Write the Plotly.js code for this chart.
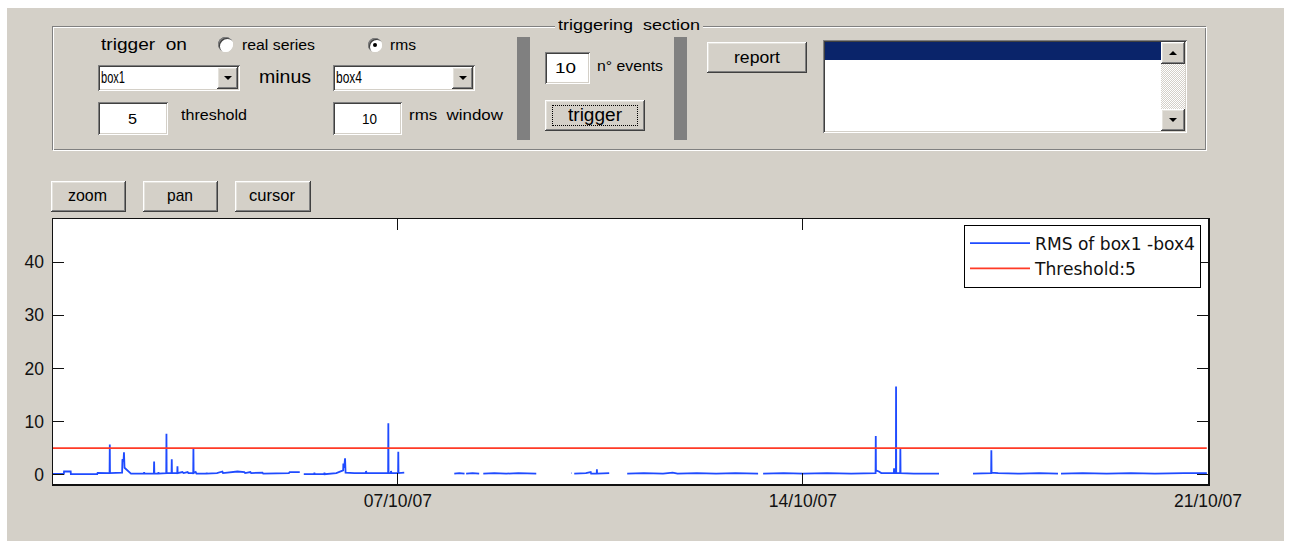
<!DOCTYPE html>
<html><head><meta charset="utf-8">
<script src="https://cdn.plot.ly/plotly-3.0.1.min.js"></script>
<style>
html,body{margin:0;padding:0}
body{width:1291px;height:541px;position:relative;background:#fff;overflow:hidden;font-family:'Liberation Sans',Arial,sans-serif}
#bg{position:absolute;left:7px;top:8px;width:1277px;height:533px;background:#d4d0c8}
#plot{position:absolute;left:0;top:0;width:1291px;height:541px}
#gui{position:absolute;left:0;top:0;width:1291px;height:541px;pointer-events:none;z-index:5}
.abs{position:absolute;box-sizing:border-box}
.btn{background:#d4d0c8;box-shadow:inset -1px -1px #404040,inset 1px 1px #fff,inset -2px -2px #808080,inset 2px 2px #e4e2dc}
.sunk{background:#fff;box-shadow:inset 1px 1px #808080,inset -1px -1px #fff,inset 2px 2px #404040,inset -2px -2px #d4d0c8}
.txt{position:absolute;white-space:pre;line-height:1;color:#000;transform-origin:0 0;font-family:'Liberation Sans',Arial,sans-serif}
</style>
</head><body>
<div id="bg"></div>
<div id="plot"></div>
<div id="gui"></div>
<script>
// ---------------- data ----------------
const seriesName = 'RMS of box1 -box4';
const thresholdName = 'Threshold:5';
const rmsTime = [
  // segment 1
  '2007-10-01 01:00','2007-10-01 05:30','2007-10-01 05:35','2007-10-01 08:20','2007-10-01 08:25',
  '2007-10-01 19:20','2007-10-01 19:30','2007-10-01 22:00','2007-10-02 00:28','2007-10-02 00:33',
  '2007-10-02 00:38','2007-10-02 05:40','2007-10-02 05:48','2007-10-02 06:15','2007-10-02 06:26',
  '2007-10-02 06:40','2007-10-02 07:30','2007-10-02 08:30','2007-10-02 09:20','2007-10-02 14:40',
  '2007-10-02 14:48','2007-10-02 14:56','2007-10-02 18:50','2007-10-02 18:56','2007-10-02 19:02',
  '2007-10-02 20:40','2007-10-02 20:44','2007-10-02 20:50','2007-10-02 23:58','2007-10-03 00:03',
  '2007-10-03 00:08','2007-10-03 02:10','2007-10-03 02:15','2007-10-03 02:20','2007-10-03 04:32',
  '2007-10-03 04:37','2007-10-03 04:42','2007-10-03 06:40','2007-10-03 07:10','2007-10-03 08:50',
  '2007-10-03 09:10','2007-10-03 11:09','2007-10-03 11:14','2007-10-03 11:19','2007-10-03 12:10',
  '2007-10-03 12:30','2007-10-03 16:40','2007-10-03 16:45','2007-10-03 16:50','2007-10-03 21:00',
  '2007-10-03 23:15','2007-10-03 23:30','2007-10-04 05:30','2007-10-04 08:20','2007-10-04 08:40',
  '2007-10-04 10:50','2007-10-04 11:10','2007-10-04 15:50','2007-10-04 16:10','2007-10-05 02:50',
  '2007-10-05 03:10','2007-10-05 07:20','2007-10-05 08:10',
  // segment 2
  '2007-10-05 09:00','2007-10-05 13:20','2007-10-05 13:25','2007-10-05 13:30','2007-10-05 17:30',
  '2007-10-05 17:35','2007-10-05 17:40','2007-10-05 22:30','2007-10-06 00:30','2007-10-06 01:20',
  '2007-10-06 01:25','2007-10-06 01:45','2007-10-06 02:07','2007-10-06 02:20','2007-10-06 06:00',
  '2007-10-06 10:45','2007-10-06 10:50','2007-10-06 11:00','2007-10-06 19:59','2007-10-06 20:04',
  '2007-10-06 20:09','2007-10-06 21:05','2007-10-06 21:11','2007-10-06 21:20','2007-10-07 00:07',
  '2007-10-07 00:12','2007-10-07 00:17','2007-10-07 02:40','2007-10-07 03:30',
  // segment 3
  '2007-10-07 23:25','2007-10-08 01:30','2007-10-08 03:40','2007-10-08 03:50','2007-10-08 04:20',
  '2007-10-08 07:00','2007-10-08 09:45','2007-10-08 10:30',
  // segment 4
  '2007-10-08 11:27','2007-10-08 16:00','2007-10-08 21:00','2007-10-09 02:00','2007-10-09 09:25',
  '2007-10-09 12:00',
  // segment 5
  '2007-10-09 23:55','2007-10-10 00:05','2007-10-10 00:30','2007-10-10 01:10','2007-10-10 06:00',
  '2007-10-10 08:00','2007-10-10 08:10','2007-10-10 10:30','2007-10-10 10:34','2007-10-10 10:38',
  '2007-10-10 15:40','2007-10-10 19:00',
  // segment 6
  '2007-10-10 23:08','2007-10-11 06:00','2007-10-11 14:00','2007-10-11 18:00','2007-10-11 20:00',
  '2007-10-12 04:00','2007-10-12 12:00','2007-10-12 20:00','2007-10-13 05:25','2007-10-13 06:30',
  // segment 7
  '2007-10-13 07:30','2007-10-13 16:00','2007-10-14 00:00','2007-10-14 10:00','2007-10-14 20:00',
  '2007-10-15 03:00','2007-10-15 06:08','2007-10-15 06:13','2007-10-15 06:18','2007-10-15 07:30',
  '2007-10-15 08:30','2007-10-15 13:44','2007-10-15 13:48','2007-10-15 13:52','2007-10-15 14:34',
  '2007-10-15 14:38','2007-10-15 14:42','2007-10-15 16:20','2007-10-15 16:25','2007-10-15 16:30',
  '2007-10-15 22:00','2007-10-16 08:27','2007-10-16 15:00',
  // segment 8
  '2007-10-16 22:33','2007-10-17 03:00','2007-10-17 06:04','2007-10-17 06:09','2007-10-17 06:14',
  '2007-10-17 09:00','2007-10-17 18:00','2007-10-18 02:00','2007-10-18 09:47','2007-10-18 10:30',
  // segment 9
  '2007-10-18 11:02','2007-10-18 20:00','2007-10-19 06:00','2007-10-19 16:00','2007-10-20 02:00',
  '2007-10-20 12:00','2007-10-20 14:00','2007-10-20 23:32'
];
const rmsValue = [
  // segment 1
  0.15,0.15,0.6,0.6,0.1,
  0.1,0.35,0.3,0.3,5.7,
  0.3,0.4,2.9,2.5,4.2,
  1.3,0.9,0.6,0.2,0.2,
  0.45,0.2,0.2,2.5,0.2,
  0.2,0.5,0.2,0.3,7.7,
  0.3,0.3,2.9,0.3,0.3,
  1.6,0.3,0.5,0.3,0.5,
  0.3,0.3,5.0,0.3,0.5,
  0.2,0.2,0.4,0.2,0.3,
  0.6,0.3,0.6,0.5,0.3,
  0.5,0.3,0.4,0.2,0.3,
  0.5,0.5,null,
  // segment 2
  0.1,0.1,0.4,0.1,0.1,
  0.4,0.1,0.3,0.6,0.8,
  2.1,1.3,3.1,0.4,0.3,
  0.3,0.7,0.3,0.3,9.7,
  0.3,0.3,0.7,0.3,0.3,
  4.3,0.3,0.4,null,
  // segment 3
  0.2,0.3,0.2,null,0.2,
  0.3,0.2,null,
  // segment 4
  0.2,0.3,0.2,0.3,0.2,
  null,
  // segment 5
  0.3,0.3,null,0.2,0.3,
  0.5,0.2,0.2,1.0,0.2,
  0.3,null,
  // segment 6
  0.2,0.3,0.2,0.4,0.2,
  0.3,0.2,0.3,0.2,null,
  // segment 7
  0.2,0.3,0.2,0.3,0.2,
  0.3,0.3,7.3,0.8,0.6,
  0.3,0.3,1.2,0.3,0.3,
  16.6,0.3,0.3,4.9,0.3,
  0.2,0.2,null,
  // segment 8
  0.2,0.3,0.3,4.6,0.4,
  0.3,0.2,0.3,0.2,null,
  // segment 9
  0.2,0.3,0.2,0.3,0.2,
  0.4,0.3,0.3
];
const thresholdTime = ['2007-10-01 01:00','2007-10-20 23:30'];
const thresholdValue = [5, 5];
const xRange = ['2007-10-01 01:00','2007-10-21 00:00'];
const xTickVals = ['2007-10-07','2007-10-14','2007-10-21'];
const xTickText = ['07/10/07','14/10/07','21/10/07'];
const yTickVals = [0,10,20,30,40];
const yTickText = ['0','10','20','30','40'];

// ---------------- chart ----------------
const FONT = 'Liberation Sans, Arial, sans-serif';
const traces = [
  {x: rmsTime, y: rmsValue, name: seriesName, type:'scatter', mode:'lines',
   line:{color:'#1f4bff', width:1.8}, connectgaps:false, hoverinfo:'skip'},
  {x: thresholdTime, y: thresholdValue, name: thresholdName, type:'scatter', mode:'lines',
   line:{color:'#ff3a26', width:1.6}, hoverinfo:'skip'}
];
const axisCommon = {ticks:'inside', ticklen:11, tickwidth:1, tickcolor:'#111', showline:true,
  mirror:'ticks', linecolor:'#111', linewidth:1.5, showgrid:false, zeroline:false,
  tickfont:{family:FONT, size:17.5, color:'#111'}, fixedrange:true};
const layout = {
  width:1291, height:541,
  margin:{l:53, r:83, t:219, b:57, pad:0},
  paper_bgcolor:'rgba(0,0,0,0)', plot_bgcolor:'#fff',
  font:{family:FONT, size:17, color:'#111'},
  showlegend:true,
  legend:{x:0.99394, xanchor:'right', y:0.979, yanchor:'top', bgcolor:'#fff',
    bordercolor:'#000', borderwidth:1, font:{family:'DejaVu Sans, sans-serif', size:17.1, color:'#111'},
    itemwidth:60, tracegroupgap:0},
  xaxis:Object.assign({type:'date', range:xRange, tickmode:'array', tickvals:xTickVals, ticktext:xTickText}, axisCommon),
  yaxis:Object.assign({range:[-1.75,48.1], tickmode:'array', tickvals:yTickVals, ticktext:yTickText, ticklabelstandoff:4}, axisCommon)
};
Plotly.newPlot('plot', traces, layout, {displayModeBar:false, staticPlot:true});

// ---------------- GUI (MATLAB figure controls) ----------------
const G = document.getElementById('gui');
function box(cls, x0, y0, x1, y1, style){
  const d = document.createElement('div');
  d.className = 'abs ' + cls;
  d.style.left = x0 + 'px'; d.style.top = y0 + 'px';
  d.style.width = (x1 - x0) + 'px'; d.style.height = (y1 - y0) + 'px';
  if (style) Object.assign(d.style, style);
  G.appendChild(d); return d;
}
function tri(cx, cy, up){
  const d = document.createElement('div');
  d.className = 'abs';
  Object.assign(d.style, {left:(cx-4)+'px', top:(cy-2)+'px', width:0, height:0,
    borderLeft:'4px solid transparent', borderRight:'4px solid transparent'});
  if (up) d.style.borderBottom = '4px solid #000'; else d.style.borderTop = '4px solid #000';
  G.appendChild(d); return d;
}
function text(str, x0, x1, baseline, size, style){
  const d = document.createElement('div');
  d.className = 'txt';
  d.textContent = str;
  d.style.fontSize = size + 'px';
  if (style) Object.assign(d.style, style);
  G.appendChild(d);
  const w = d.getBoundingClientRect().width;
  const s = (x1 - x0) / w;
  d.style.left = x0 + 'px';
  d.style.top = (baseline - 0.8465 * size) + 'px';
  d.style.transform = 'scaleX(' + s.toFixed(4) + ')';
  return d;
}

// etched panel
box('', 52, 26, 1206, 150, {border:'1px solid #808080'});
box('', 53, 27, 1207, 151, {border:'1px solid #fff'});
box('', 555, 18, 703, 34, {background:'#d4d0c8'});
text('triggering  section', 558, 700, 30, 15.5);

// row 1
text('trigger  on', 101, 187, 50.5, 17);
box('', 218, 37, 233, 52, {borderRadius:'50%', background:'#fff',
  boxShadow:'inset 1px 1px #808080, inset 2px 2px #404040, inset -1px -1px #fff'});
text('real series', 242, 315, 49.5, 14);
box('', 368, 38, 382, 52, {borderRadius:'50%', background:'#fff',
  boxShadow:'inset 1px 1px #808080, inset 2px 2px #404040, inset -1px -1px #fff'});
box('', 373, 43, 377, 47, {borderRadius:'50%', background:'#000'});
text('rms', 390, 416, 50, 14);

// row 2 (popups)
box('sunk', 98, 65, 240, 91);
box('btn', 217, 67, 238, 89);
tri(227.5, 78, false);
text('box1', 101, 125, 83.3, 16);
text('minus', 259, 311, 83.3, 18);
box('sunk', 333, 65, 475, 91);
box('btn', 452, 67, 473, 89);
tri(462.5, 78, false);
text('box4', 336, 362, 83.3, 16);

// row 3 (edit boxes)
box('sunk', 98, 102, 168, 135);
text('5', 128, 137, 124, 15.5);
text('threshold', 181, 247, 120.5, 15.5);
box('sunk', 333, 102, 402, 135);
text('10', 362, 377, 124, 15.5);
text('rms  window', 409, 503, 120.5, 15.5);

// separators
box('', 517, 37, 530, 140, {background:'#808080'});
box('', 674, 37, 687, 140, {background:'#808080'});

// n events + trigger
box('sunk', 545, 52, 590, 84);
text('10', 555, 576, 72.7, 15.5);
text('n° events', 597, 663, 71, 15);
box('btn', 545, 100, 645, 131);
box('', 552, 105, 638, 126, {border:'1px dotted #000'});
text('trigger', 568, 622, 121, 18);

// report + listbox
box('btn', 707, 42, 807, 73);
text('report', 734, 780, 63, 17);
box('sunk', 823, 40, 1187, 133);
box('', 825, 42, 1161, 60, {background:'#0a246a'});
box('', 1161, 42, 1185, 131, {background:'repeating-conic-gradient(#fff 0 25%, #d4d0c8 0 50%) 0 0/2px 2px'});
box('btn', 1161, 42, 1185, 64);
tri(1173, 53, true);
box('btn', 1161, 109, 1185, 131);
tri(1173, 120, false);

// plot tool buttons
box('btn', 51, 181, 126, 212);
text('zoom', 68, 107, 201.5, 17);
box('btn', 143, 181, 218, 212);
text('pan', 167, 193, 201.5, 17);
box('btn', 235, 181, 311, 212);
text('cursor', 249, 295, 201.5, 17);
</script>
</body></html>
